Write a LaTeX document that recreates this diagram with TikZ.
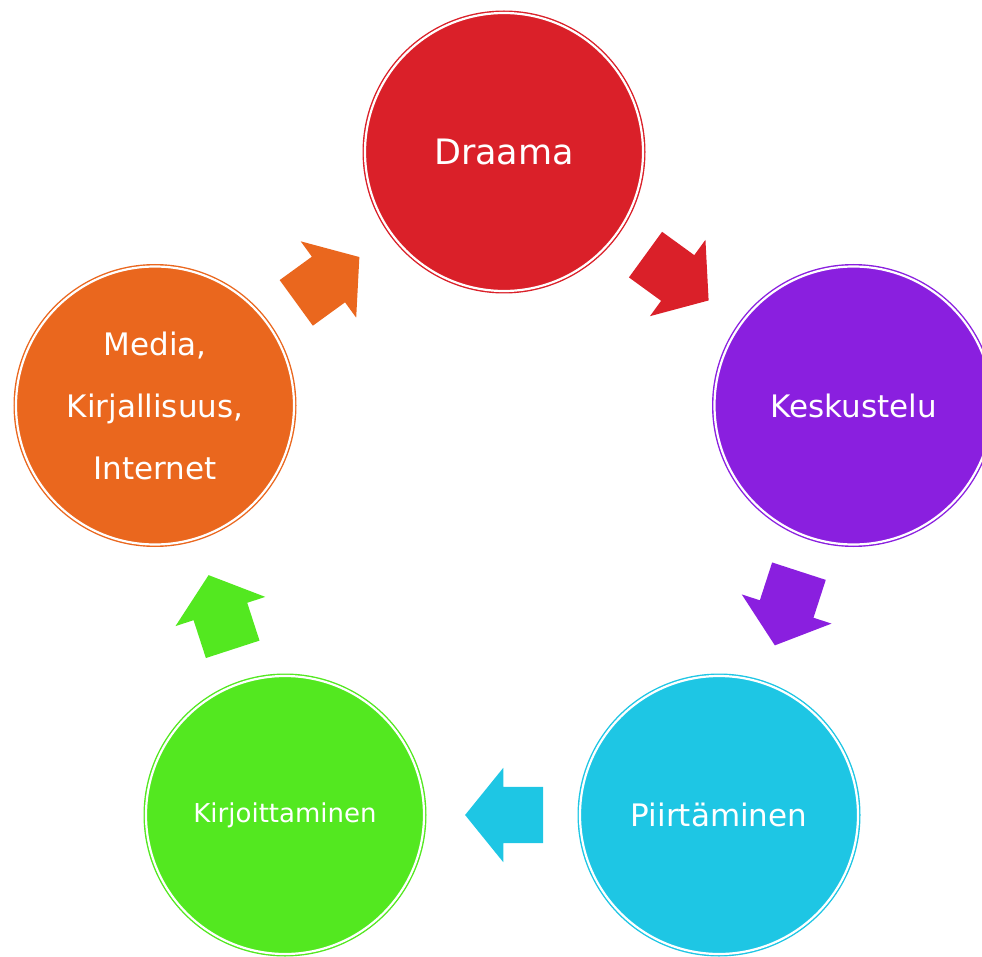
\documentclass[tikz,border=0pt]{standalone}
\usepackage{fontspec}
\setmainfont{DejaVu Sans}
\usetikzlibrary{shapes.arrows,calc}
\definecolor{draamaRed}{RGB}{218,32,41}
\definecolor{keskusteluPurple}{RGB}{138,31,223}
\definecolor{piirtaminenCyan}{RGB}{30,198,228}
\definecolor{kirjoittaminenGreen}{RGB}{83,232,32}
\definecolor{mediaOrange}{RGB}{234,103,30}
\tikzset{
	every phase/.style={
		circle,
		minimum size=278pt,
		inner sep=0pt,
		line width=1.4pt,
		double=white,
		double distance=2.2pt,
		text=white,
		align=center
	},
	phase/.style={
		every phase,
		fill=#1,
		draw=#1
	},
	cycle arrow/.style 2 args={
		single arrow,
		fill=#1,
		draw=none,
		inner sep=0pt,
		inner ysep=28pt,
		minimum height=78pt,
		single arrow head extend=19pt,
		single arrow tip angle=102,
		rotate=#2,
		xshift=-13.5pt
	},
}

\begin{document}
\begin{tikzpicture}[x=1pt,y=-1pt]
\useasboundingbox (0,0) rectangle (982,957);

\node[phase=draamaRed, font=\fontsize{35}{42}\selectfont] (draama) at (504,152) {Draama};
	\node[phase=keskusteluPurple, font=\fontsize{31}{40}\selectfont] (keskustelu) at (853.5,405.5) {Keskustelu};
		\node[phase=piirtaminenCyan, font=\fontsize{31}{40}\selectfont] (piirtaminen) at (719,815) {Piirtäminen};
		\node[phase=kirjoittaminenGreen, font=\fontsize{26}{32}\selectfont] (kirjoittaminen) at (285,815) {Kirjoittaminen};
	\node[phase=mediaOrange, font=\fontsize{31}{62}\selectfont] (media) at (155,405.5) {Media,\\Kirjallisuus,\\Internet};

\node[cycle arrow={draamaRed}{-36}] (toKeskustelu) at ($(draama)!0.5!(keskustelu)$) {};
\node[cycle arrow={keskusteluPurple}{-108}] (toPiirtaminen) at ($(keskustelu)!0.5!(piirtaminen)$) {};
\node[cycle arrow={piirtaminenCyan}{180}] (toKirjoittaminen) at ($(piirtaminen)!0.5!(kirjoittaminen)$) {};
\node[cycle arrow={kirjoittaminenGreen}{108}] (toMedia) at ($(kirjoittaminen)!0.5!(media)$) {};
\node[cycle arrow={mediaOrange}{36}] (toDraama) at ($(media)!0.5!(draama)$) {};
\end{tikzpicture}
\end{document}
